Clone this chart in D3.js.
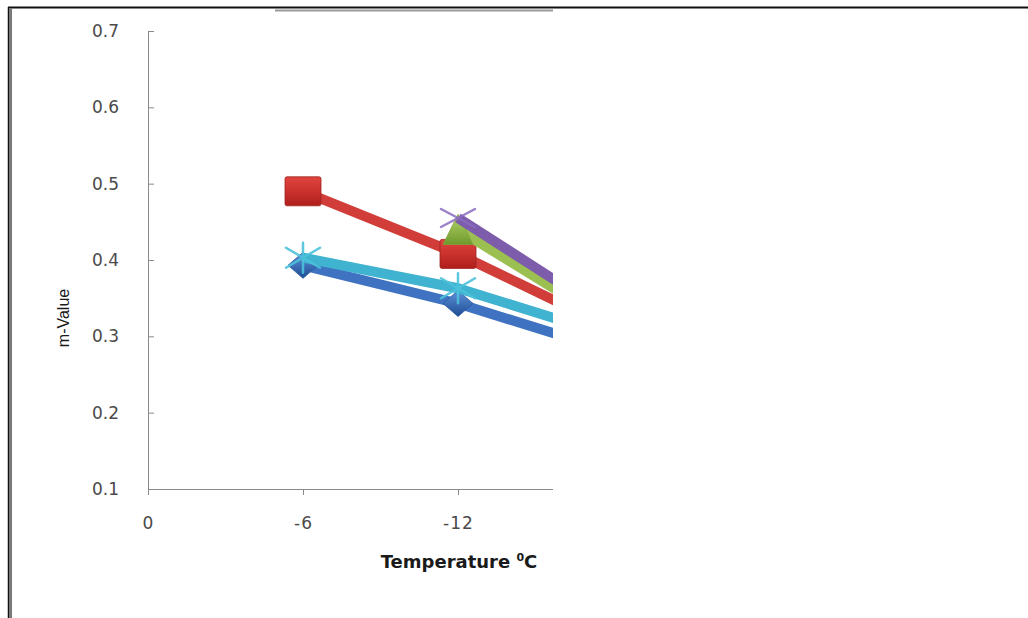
<!DOCTYPE html>
<html>
<head>
<meta charset="utf-8">
<script src="https://cdn.jsdelivr.net/npm/d3@7/dist/d3.min.js"></script>
<style>
  html, body { margin: 0; padding: 0; background: #fff; }
  svg { display: block; }
</style>
</head>
<body>
<div id="chart"></div>
<script>
// temperatures on the category axis (the last one falls outside the cropped plot)
const categories = ["0", "-6", "-12", "-18"];
const yTicks = [0.1, 0.2, 0.3, 0.4, 0.5, 0.6, 0.7];

// m-values per series, null where the series has no point
const blueValues   = [null, 0.393, 0.343, 0.28];
const redValues    = [null, 0.49, 0.408, 0.31];
const greenValues  = [null, null, 0.44, 0.315];
const purpleValues = [null, null, 0.455, 0.325];
const cyanValues   = [null, 0.403, 0.363, 0.30];

const colors = {
  axis: "#8a8a8a",
  tickText: "#4a4a4a",
  title: "#1a1a1a",
  blue: "#3f72c0",
  red: "#d13d39",
  green: "#9cbf52",
  purple: "#7d5cab",
  cyan: "#3fb3cf"
};

const series = [
  { name: "blue",   values: blueValues,   color: colors.blue,   marker: "diamond" },
  { name: "red",    values: redValues,    color: colors.red,    marker: "square" },
  { name: "green",  values: greenValues,  color: colors.green,  marker: "triangle" },
  { name: "purple", values: purpleValues, color: colors.purple, marker: "x" },
  { name: "cyan",   values: cyanValues,   color: colors.cyan,   marker: "star" }
];

const W = 1028, H = 618;
const plotLeft = 148, plotRight = 553, plotTop = 31, plotBottom = 489;
const catStep = 155;

const svg = d3.select("#chart")
  .append("svg")
  .attr("width", W)
  .attr("height", H);

const defs = svg.append("defs");

defs.append("clipPath")
  .attr("id", "plot-clip")
  .append("rect")
  .attr("x", plotLeft)
  .attr("y", 0)
  .attr("width", plotRight - plotLeft)
  .attr("height", plotBottom + 20);

// marker gradients, a bit like the old office 3D look
function addGradient(id, top, bottom) {
  const g = defs.append("linearGradient")
    .attr("id", id)
    .attr("x1", 0).attr("y1", 0)
    .attr("x2", 0).attr("y2", 1);
  g.append("stop").attr("offset", "0%").attr("stop-color", top);
  g.append("stop").attr("offset", "100%").attr("stop-color", bottom);
}
addGradient("grad-blue", "#5f93dc", "#1d4c92");
addGradient("grad-red", "#e2443f", "#b01f1c");
addGradient("grad-green", "#b3d46a", "#6f9a2c");

// frame remnants of the cropped figure
svg.append("line")
  .attr("x1", 8).attr("x2", W)
  .attr("y1", 7.5).attr("y2", 7.5)
  .attr("stroke", "#111").attr("stroke-width", 2);
svg.append("line")
  .attr("x1", 275).attr("x2", plotRight)
  .attr("y1", 10.5).attr("y2", 10.5)
  .attr("stroke", "#9a9a9a").attr("stroke-width", 2);
svg.append("line")
  .attr("x1", 8.5).attr("x2", 8.5)
  .attr("y1", 7).attr("y2", H)
  .attr("stroke", "#111").attr("stroke-width", 1.5);
svg.append("line")
  .attr("x1", 10.5).attr("x2", 10.5)
  .attr("y1", 8).attr("y2", H)
  .attr("stroke", "#7a7a7a").attr("stroke-width", 3);

const x = d3.scalePoint()
  .domain(categories)
  .range([plotLeft, plotLeft + catStep * (categories.length - 1)]);

const y = d3.scaleLinear()
  .domain([0.1, 0.7])
  .range([plotBottom, plotTop]);

// y axis, ticks pointing into the plot
const yAxis = svg.append("g")
  .attr("transform", `translate(${plotLeft},0)`)
  .call(d3.axisLeft(y)
    .tickValues(yTicks)
    .tickSizeInner(-6)
    .tickSizeOuter(0)
    .tickPadding(29)
    .tickFormat(d3.format(".1f")));
yAxis.select(".domain").attr("stroke", colors.axis);
yAxis.selectAll(".tick line").attr("stroke", colors.axis);
yAxis.selectAll(".tick text")
  .attr("fill", colors.tickText)
  .style("font-family", "DejaVu Sans, sans-serif")
  .style("font-size", "17px");

// x axis, only the part that survived the crop
const xAxis = svg.append("g")
  .attr("transform", `translate(0,${plotBottom})`)
  .call(d3.axisBottom(x)
    .tickValues(categories.filter(c => x(c) <= plotRight))
    .tickSize(6)
    .tickPadding(22));
xAxis.select(".domain").remove();
xAxis.selectAll(".tick line").attr("stroke", colors.axis);
xAxis.selectAll(".tick text")
  .attr("fill", colors.tickText)
  .style("font-family", "DejaVu Sans, sans-serif")
  .style("font-size", "17px")
  .style("letter-spacing", "1px");
xAxis.append("line")
  .attr("x1", plotLeft).attr("x2", plotRight)
  .attr("y1", 0.5).attr("y2", 0.5)
  .attr("stroke", colors.axis);

// axis titles
const xTitle = svg.append("text")
  .attr("x", 459)
  .attr("y", 568)
  .attr("text-anchor", "middle")
  .style("font-family", "DejaVu Sans, sans-serif")
  .style("font-size", "18px")
  .style("font-weight", "700")
  .style("fill", colors.title);
xTitle.append("tspan").text("Temperature ");
xTitle.append("tspan")
  .attr("dy", -7)
  .style("font-size", "11px")
  .text("0");
xTitle.append("tspan")
  .attr("dy", 7)
  .text("C");

svg.append("text")
  .attr("transform", "translate(69,318) rotate(-90)")
  .attr("text-anchor", "middle")
  .style("font-family", "Liberation Sans, Arial, sans-serif")
  .style("font-size", "16px")
  .style("fill", colors.title)
  .text("m-Value");

// series
const plot = svg.append("g").attr("clip-path", "url(#plot-clip)");

const line = d3.line()
  .defined(d => d.v !== null)
  .x(d => x(d.c))
  .y(d => y(d.v));

function drawMarker(g, s, px, py) {
  if (s.marker === "diamond") {
    g.append("path")
      .attr("d", `M${px},${py - 13}L${px + 15},${py}L${px},${py + 13}L${px - 15},${py}Z`)
      .attr("fill", "url(#grad-blue)")
      .attr("stroke", "#2a5aa0").attr("stroke-width", 0.8);
  } else if (s.marker === "square") {
    g.append("rect")
      .attr("x", px - 18).attr("y", py - 14.5)
      .attr("width", 36).attr("height", 29)
      .attr("rx", 2)
      .attr("fill", "url(#grad-red)")
      .attr("stroke", "#9e2420").attr("stroke-width", 0.8);
  } else if (s.marker === "triangle") {
    g.append("path")
      .attr("d", `M${px},${py - 15}L${px + 15},${py + 15}L${px - 15},${py + 15}Z`)
      .attr("fill", "url(#grad-green)")
      .attr("stroke", "#7fa33a").attr("stroke-width", 0.8);
  } else if (s.marker === "x") {
    g.append("path")
      .attr("d", `M${px - 17},${py - 9}L${px + 17},${py + 9}M${px - 17},${py + 9}L${px + 17},${py - 9}`)
      .attr("stroke", "#8a6cc0").attr("stroke-width", 2.5)
      .attr("stroke-linecap", "round")
      .attr("opacity", 0.85);
  } else if (s.marker === "star") {
    g.append("path")
      .attr("d", `M${px - 17},${py - 10}L${px + 17},${py + 10}M${px - 17},${py + 10}L${px + 17},${py - 10}M${px},${py - 15}L${px},${py + 15}`)
      .attr("stroke", "#4cc2dc").attr("stroke-width", 2.5)
      .attr("stroke-linecap", "round")
      .attr("opacity", 0.9);
  }
}

series.forEach(s => {
  const pts = categories.map((c, i) => ({ c: c, v: s.values[i] }));
  const g = plot.append("g").attr("class", "series-" + s.name);

  g.append("path")
    .datum(pts)
    .attr("d", line)
    .attr("fill", "none")
    .attr("stroke", s.color)
    .attr("stroke-width", 10)
    .attr("stroke-linejoin", "round");

  pts.filter(d => d.v !== null).forEach(d => drawMarker(g, s, x(d.c), y(d.v)));
});
</script>
</body>
</html>
